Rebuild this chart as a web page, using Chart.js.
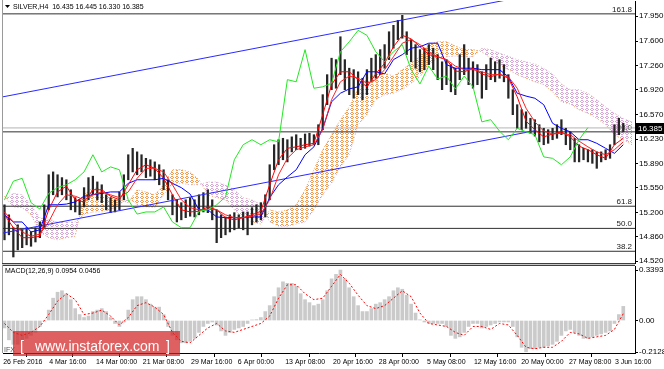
<!DOCTYPE html>
<html>
<head>
<meta charset="utf-8">
<script src="https://cdn.jsdelivr.net/npm/chart.js@4/dist/chart.umd.min.js"></script>
<style>
  body { margin: 0; background: #fff; width: 664px; height: 369px; overflow: hidden; position: relative; }
  canvas { position: absolute; left: 0; }
  #main { top: 0; }
  #macd { top: 265px; }
</style>
</head>
<body>
<canvas id="main" width="664" height="265"></canvas>
<canvas id="macd" width="664" height="104"></canvas>
<script>
// Header / instrument
const symbolName = 'SILVER,H4';
const lastOHLC = [16.435, 16.445, 16.330, 16.385];

// Price axis ticks (MT4 style)
const priceTicks = [14.52, 14.86, 15.20, 15.55, 15.89, 16.23, 16.57, 16.92, 17.26, 17.60, 17.95];

// Fibonacci levels
const fibNames = ['38.2', '50.0', '61.8', '100.0', '161.8'];
const fibPrices = [14.66, 14.98, 15.29, 16.33, 17.98];

// Time axis (slot = 3 H4 bars)
const dateSlots = [-0.3, 10.1, 20.7, 31.3, 42.2, 52.8, 63.5, 74.3, 84.7, 95.6, 106.2, 116.9, 127.7, 138.1];
const dateLabels = ['26 Feb 2016', '4 Mar 16:00', '14 Mar 00:00', '21 Mar 08:00', '29 Mar 16:00', '6 Apr 00:00',
  '13 Apr 08:00', '20 Apr 16:00', '28 Apr 00:00', '5 May 08:00', '12 May 16:00', '20 May 00:00',
  '27 May 08:00', '3 Jun 16:00'];

// Candles (high / low per slot)
const candleHigh = [
  15.31, 15.17, 14.99, 15.03, 14.96, 14.99, 14.93, 14.99, 15.07, 15.31,
  15.73, 15.77, 15.73, 15.69, 15.66, 15.52, 15.41, 15.38, 15.55, 15.69,
  15.71, 15.63, 15.59, 15.45, 15.41, 15.38, 15.49, 15.73, 16.01, 16.10,
  16.05, 16.01, 15.96, 15.94, 15.91, 15.87, 15.80, 15.66, 15.45, 15.38,
  15.34, 15.38, 15.41, 15.38, 15.45, 15.48, 15.52, 15.38, 15.24, 15.17,
  15.14, 15.17, 15.20, 15.17, 15.21, 15.21, 15.27, 15.31, 15.34, 15.45,
  15.87, 16.15, 16.22, 16.24, 16.22, 16.26, 16.29, 16.24, 16.30, 16.31,
  16.29, 16.43, 16.85, 17.13, 17.36, 17.34, 17.66, 17.34, 17.22, 17.20,
  17.17, 17.08, 17.20, 17.36, 17.41, 17.48, 17.55, 17.73, 17.82, 17.89,
  17.96, 17.73, 17.62, 17.55, 17.48, 17.50, 17.55, 17.50, 17.41, 17.31,
  17.34, 17.27, 17.22, 17.41, 17.55, 17.36, 17.31, 17.27, 17.17, 17.27,
  17.36, 17.31, 17.34, 17.27, 17.13, 16.92, 16.71, 16.64, 16.61, 16.52,
  16.50, 16.43, 16.38, 16.36, 16.38, 16.43, 16.50, 16.38, 16.33, 16.24,
  16.15, 16.10, 16.08, 16.08, 16.05, 16.05, 16.08, 16.15, 16.43, 16.52,
  16.45
];
const candleLow = [
  14.82, 14.89, 14.58, 14.68, 14.71, 14.75, 14.73, 14.79, 14.85, 14.99,
  15.24, 15.45, 15.42, 15.45, 15.38, 15.24, 15.21, 15.17, 15.28, 15.38,
  15.45, 15.38, 15.34, 15.24, 15.20, 15.21, 15.24, 15.38, 15.66, 15.77,
  15.73, 15.77, 15.69, 15.71, 15.66, 15.59, 15.52, 15.38, 15.17, 15.07,
  15.10, 15.13, 15.15, 15.14, 15.17, 15.21, 15.20, 15.10, 14.78, 14.85,
  14.89, 14.93, 14.96, 14.99, 14.96, 14.89, 15.03, 15.07, 15.10, 15.14,
  15.38, 15.80, 15.87, 15.94, 15.91, 16.05, 16.08, 16.08, 16.10, 16.13,
  16.15, 16.15, 16.36, 16.71, 16.92, 16.94, 17.13, 16.92, 16.85, 16.80,
  16.85, 16.78, 16.85, 17.03, 17.08, 17.13, 17.22, 17.34, 17.50, 17.62,
  17.64, 17.41, 17.31, 17.22, 17.17, 17.20, 17.27, 17.20, 17.06, 16.92,
  16.99, 16.89, 16.85, 17.06, 17.13, 16.99, 16.94, 16.99, 16.80, 16.92,
  17.06, 17.03, 17.08, 17.03, 16.80, 16.57, 16.38, 16.36, 16.38, 16.31,
  16.27, 16.19, 16.15, 16.17, 16.22, 16.24, 16.29, 16.15, 16.08, 15.91,
  15.91, 15.94, 15.91, 15.89, 15.82, 15.91, 15.94, 15.96, 16.15, 16.29,
  16.33
];

// Indicator lines, one value every 2 slots
const tenkan = [15.17, 14.99, 14.85, 14.85, 14.87, 15.24, 15.49, 15.57, 15.38, 15.35,
  15.52, 15.52, 15.43, 15.38, 15.59, 15.80, 15.87, 15.82, 15.68, 15.45,
  15.24, 15.21, 15.22, 15.28, 15.24, 15.13, 15.10, 15.13, 15.17, 15.22,
  15.59, 15.94, 16.10, 16.12, 16.15, 16.17, 16.57, 16.99, 17.17, 17.17,
  17.06, 16.96, 17.14, 17.29, 17.52, 17.68, 17.63, 17.52, 17.41, 17.38,
  17.34, 17.18, 17.17, 17.22, 17.14, 17.10, 17.14, 17.08, 16.82, 16.48,
  16.36, 16.26, 16.30, 16.33, 16.26, 16.13, 16.08, 16.01, 15.96, 16.15,
  16.24, null];
const maLine = [15.21, 15.07, 14.93, 14.87, 14.90, 15.07, 15.31, 15.45, 15.43, 15.38,
  15.45, 15.49, 15.45, 15.41, 15.49, 15.68, 15.82, 15.82, 15.77, 15.59,
  15.38, 15.27, 15.24, 15.25, 15.24, 15.17, 15.13, 15.13, 15.15, 15.18,
  15.38, 15.73, 15.96, 16.08, 16.12, 16.15, 16.36, 16.78, 17.03, 17.11,
  17.08, 17.01, 17.06, 17.20, 17.38, 17.57, 17.62, 17.55, 17.45, 17.38,
  17.34, 17.25, 17.20, 17.20, 17.17, 17.13, 17.13, 17.10, 16.94, 16.66,
  16.47, 16.34, 16.30, 16.31, 16.29, 16.20, 16.12, 16.05, 16.01, 16.08,
  16.19, null];
const kijun = [15.17, 15.07, 15.07, 14.93, 14.96, 15.31, 15.31, 15.32, 15.35, 15.43,
  15.45, 15.47, 15.49, 15.49, 15.61, 15.66, 15.66, 15.66, 15.68, 15.61,
  15.55, 15.46, 15.24, 15.24, 15.14, 15.13, 15.13, 15.13, 15.14, 15.14,
  15.41, 15.59, 15.70, 15.80, 16.01, 16.12, 16.38, 16.75, 16.87, 16.93,
  16.96, 17.17, 17.17, 17.14, 17.34, 17.41, 17.50, 17.52, 17.57, 17.57,
  17.27, 17.22, 17.22, 17.22, 17.20, 17.20, 17.20, 17.10, 16.87, 16.83,
  16.80, 16.71, 16.45, 16.38, 16.33, 16.22, 16.22, 16.17, 16.10, 16.03,
  16.15, null];
const chikou = [15.38, 15.64, 15.68, 15.34, 15.25, 15.47, 15.55, 15.59, 15.66, 15.77,
  16.01, 15.77, 15.84, 15.80, 15.38, 15.18, 15.21, 15.21, 15.28, 15.07,
  14.99, 14.99, 15.22, 15.24, 15.31, 15.42, 15.94, 16.15, 16.22, 16.15,
  16.22, 16.19, 17.06, 17.03, 17.48, 16.94, 16.96, 17.01, 17.45, 17.59,
  17.75, 17.68, 17.45, 17.31, 17.45, 17.55, 17.20, 17.00, 17.25, 17.07,
  17.11, 16.93, 17.11, 16.96, 16.47, 16.50, 16.34, 16.22, 16.38, 16.33,
  16.29, 15.98, 15.96, 15.87, 15.98, 16.22, 16.39, null, null, null,
  null, null];
const spanA = [15.43, 15.28, 15.27, 15.17, 14.93, 14.85, 14.82, 14.85, 14.87, 15.45,
  15.55, 15.52, 15.43, 15.38, 15.34, 15.52, 15.49, 15.45, 15.59, 15.80,
  15.80, 15.77, 15.66, 15.45, 15.41, 15.38, 15.24, 15.13, 15.07, 15.04,
  15.24, 15.21, 15.24, 15.31, 15.52, 15.80, 16.08, 16.29, 16.50, 16.68,
  16.94, 17.07, 17.14, 17.15, 17.11, 17.20, 17.29, 17.38, 17.55, 17.59,
  17.59, 17.53, 17.48, 17.48, 17.45, 17.36, 17.27, 17.20, 17.13, 17.08,
  17.03, 16.99, 16.89, 16.75, 16.72, 16.64, 16.59, 16.52, 16.43, 16.29,
  16.22, 16.15];
const spanB = [15.38, 15.47, 15.45, 15.31, 15.13, 15.10, 15.07, 15.07, 15.07, 15.17,
  15.21, 15.21, 15.24, 15.31, 15.41, 15.31, 15.28, 15.27, 15.45, 15.59,
  15.61, 15.59, 15.59, 15.63, 15.63, 15.59, 15.52, 15.41, 15.38, 15.31,
  15.07, 15.01, 15.01, 15.04, 15.07, 15.24, 15.45, 15.61, 15.84, 16.01,
  16.43, 16.57, 16.78, 16.85, 16.87, 16.92, 17.01, 17.10, 17.27, 17.36,
  17.38, 17.39, 17.38, 17.38, 17.50, 17.48, 17.43, 17.39, 17.34, 17.31,
  17.28, 17.22, 17.14, 17.00, 16.92, 16.92, 16.87, 16.78, 16.68, 16.59,
  16.52, 16.47];

// Trend channel end points
const upperChannelSlots = [-0.34, 142.65];
const upperChannel = [16.82, 18.52];
const lowerChannelSlots = [-0.34, 120];
const lowerChannel = [14.915, 16.346];

// MACD
const macdHist = [
  -0.05, -0.13, -0.16, -0.16, -0.14, -0.12, -0.10, -0.08, -0.04, -0.003,
  0.07, 0.15, 0.19, 0.20, 0.18, 0.14, 0.08, 0.04, 0.02, 0.03,
  0.06, 0.07, 0.08, 0.06, 0.02, -0.02, -0.04, -0.01, 0.07, 0.14,
  0.16, 0.16, 0.14, 0.11, 0.09, 0.09, 0.04, -0.04, -0.10, -0.13,
  -0.15, -0.15, -0.14, -0.12, -0.08, -0.04, -0.02, -0.01, -0.03, -0.07,
  -0.10, -0.08, -0.06, -0.05, -0.04, -0.02, 0.004, 0.006, 0.02, 0.06,
  0.10, 0.16, 0.22, 0.26, 0.25, 0.25, 0.23, 0.18, 0.14, 0.12,
  0.10, 0.11, 0.14, 0.20, 0.28, 0.31, 0.339, 0.28, 0.22, 0.16,
  0.10, 0.06, 0.06, 0.08, 0.11, 0.12, 0.14, 0.16, 0.20, 0.22,
  0.21, 0.17, 0.11, 0.05, 0.005, -0.01, -0.02, -0.02, -0.02, -0.02,
  -0.04, -0.10, -0.12, -0.11, -0.08, -0.04, -0.02, -0.02, -0.05, -0.04,
  -0.03, -0.02, -0.01, -0.01, -0.01, -0.04, -0.11, -0.18, -0.21, -0.19,
  -0.19, -0.18, -0.18, -0.17, -0.16, -0.14, -0.10, -0.07, -0.06, -0.08,
  -0.10, -0.12, -0.12, -0.11, -0.10, -0.09, -0.08, -0.07, -0.02, 0.04,
  0.095
];
const macdSignal = [-0.02, -0.08, -0.10, -0.08, -0.04, 0.04, 0.13, 0.18, 0.14, 0.04,
  0.05, 0.07, 0.03, -0.03, 0.02, 0.10, 0.12, 0.09, 0.04, -0.08,
  -0.14, -0.15, -0.10, -0.05, -0.02, -0.07, -0.08, -0.06, -0.04, -0.02,
  0.03, 0.15, 0.24, 0.24, 0.18, 0.14, 0.15, 0.23, 0.31, 0.25,
  0.17, 0.10, 0.08, 0.10, 0.15, 0.20, 0.16, 0.05, -0.02, -0.03,
  -0.04, -0.08, -0.10, -0.04, -0.04, -0.06, -0.02, -0.03, -0.10, -0.18,
  -0.19, -0.18, -0.18, -0.14, -0.08, -0.09, -0.12, -0.11, -0.10, -0.06,
  0.046, null];
const macdTicks = [-0.2128, 0, 0.3393];
const macdTickLabels = ['-0.2128', '0.00', '0.3393'];
const macdLabel = 'MACD(12,26,9) 0.0954 0.0456';

// view window
const xMin = -0.34, xMax = 142.65;
const priceMin = 14.496, priceMax = 18.160;
const macdMin = -0.2184, macdMax = 0.3663;

const FONT = 'Liberation Sans';
Chart.defaults.font.family = FONT;
Chart.defaults.color = '#000';

const candleSlots = candleHigh.map((_, i) => i);
const lineSlots = spanA.map((_, k) => k * 2);
const pts = (vals, slots) => vals.map((v, k) => ({ x: slots[k], y: v }));

// sparse "o" hatch like the MT4 cloud
function hatch(color) {
  const c = document.createElement('canvas');
  c.width = 5; c.height = 4;
  const g = c.getContext('2d');
  g.fillStyle = color;
  g.fillRect(1, 0, 2, 1);
  g.fillRect(0, 1, 1, 1);
  g.fillRect(3, 1, 1, 1);
  g.fillRect(1, 2, 2, 1);
  return g.createPattern(c, 'repeat');
}

function lineSet(data, color, order, extra) {
  return Object.assign({ type: 'line', data: data, borderColor: color, borderWidth: 1,
    pointRadius: 0, tension: 0, fill: false, order: order }, extra || {});
}

const fibSets = fibPrices.map(p => lineSet([{ x: xMin, y: p }, { x: xMax, y: p }], '#303030', 9));

const mainPlugin = {
  id: 'mainDecor',
  beforeDatasetsDraw(chart) {
    const ctx = chart.ctx, y = chart.scales.y, a = chart.chartArea;
    ctx.save();
    ctx.font = '8px "' + FONT + '"';
    ctx.fillStyle = '#202020';
    ctx.textAlign = 'right';
    ctx.textBaseline = 'alphabetic';
    fibPrices.forEach((p, i) => ctx.fillText(fibNames[i], a.right - 3, y.getPixelForValue(p) - 2));
    ctx.restore();
  },
  afterDraw(chart) {
    const ctx = chart.ctx, y = chart.scales.y, a = chart.chartArea;
    ctx.save();
    // frame
    ctx.fillStyle = '#9a9a9a';
    ctx.fillRect(2, 0, 1, a.bottom);
    ctx.fillStyle = '#404040';
    ctx.fillRect(2, a.bottom, a.right - 2, 1);
    ctx.fillStyle = '#c8c8c8';
    ctx.fillRect(2, a.bottom + 1, a.right - 2, 1);
    // header
    ctx.fillStyle = '#000';
    ctx.beginPath();
    ctx.moveTo(5, 5); ctx.lineTo(10, 5); ctx.lineTo(7.5, 8); ctx.closePath(); ctx.fill();
    ctx.font = '7px "' + FONT + '"';
    ctx.textBaseline = 'middle';
    ctx.fillText(symbolName + '  ' + lastOHLC.map(v => v.toFixed(3)).join(' '), 13, 7);
    // last price tag
    const py = Math.round(y.getPixelForValue(lastOHLC[3]));
    ctx.fillStyle = '#000';
    ctx.fillRect(a.right + 1, py - 5, 664 - a.right - 1, 11);
    ctx.fillStyle = '#fff';
    ctx.font = '8px "' + FONT + '"';
    ctx.fillText(lastOHLC[3].toFixed(3), a.right + 3, py + 0.5);
    ctx.restore();
  }
};

new Chart(document.getElementById('main'), {
  type: 'bar',
  data: {
    datasets: [
      lineSet(pts(spanA, lineSlots), '#f4a460', 12, { borderDash: [1, 2],
        fill: { target: '+1', above: hatch('#f29a50'), below: hatch('#d6a6d6') } }),
      lineSet(pts(spanB, lineSlots), '#d8bfd8', 12, { borderDash: [1, 2] }),
      ...fibSets,
      lineSet([{ x: xMin, y: lastOHLC[3] }, { x: xMax, y: lastOHLC[3] }], '#b4b4b4', 9),
      { type: 'bar', label: 'SILVER', data: candleSlots.map(i => ({ x: i, y: [candleLow[i], candleHigh[i]] })),
        backgroundColor: '#262626', barThickness: 1.6, order: 5 },
      lineSet(pts(upperChannel, upperChannelSlots), '#2a2aff', 4),
      lineSet(pts(lowerChannel, lowerChannelSlots), '#2a2aff', 4),
      lineSet(pts(kijun, lineSlots), '#0000ff', 3),
      lineSet(pts(maLine, lineSlots), '#ff2020', 2),
      lineSet(pts(tenkan, lineSlots), '#ff0000', 2),
      lineSet(pts(chikou, lineSlots), '#22e822', 1)
    ]
  },
  options: {
    responsive: false, animation: false, events: [], devicePixelRatio: 1,
    layout: { padding: { left: 3, top: 1, right: 0, bottom: 2 } },
    plugins: { legend: { display: false }, tooltip: { enabled: false } },
    scales: {
      x: { type: 'linear', min: xMin, max: xMax, display: false, offset: false },
      y: {
        position: 'right', min: priceMin, max: priceMax,
        afterBuildTicks: s => { s.ticks = priceTicks.map(v => ({ value: v })); },
        afterFit: s => { s.width = 29; s.paddingTop = 0; s.paddingBottom = 0; },
        ticks: { callback: v => v.toFixed(3), font: { size: 8 }, padding: 1, autoSkip: false },
        grid: { drawOnChartArea: false, tickLength: 3, color: '#000' },
        border: { color: '#000' }
      }
    }
  },
  plugins: [mainPlugin]
});

const macdPlugin = {
  id: 'macdDecor',
  afterDraw(chart) {
    const ctx = chart.ctx, a = chart.chartArea;
    ctx.save();
    ctx.fillStyle = '#404040';
    ctx.fillRect(2, 0, a.right - 2, 1);
    ctx.fillStyle = '#9a9a9a';
    ctx.fillRect(2, 0, 1, a.bottom);
    ctx.fillStyle = '#000';
    ctx.font = '7px "' + FONT + '"';
    ctx.textBaseline = 'middle';
    ctx.fillText(macdLabel, 5, 6);
    ctx.fillStyle = '#555';
    ctx.fillText('IFX', 4, 85);
    // watermark
    ctx.fillStyle = 'rgba(210, 35, 35, 0.72)';
    ctx.fillRect(13, 66, 167, 25);
    ctx.fillStyle = '#fff';
    ctx.font = '14px "' + FONT + '"';
    ctx.textBaseline = 'alphabetic';
    ctx.fillText('[', 20, 86);
    ctx.fillText('www.instaforex.com', 35, 86);
    ctx.fillText(']', 166, 86);
    ctx.restore();
  }
};

new Chart(document.getElementById('macd'), {
  type: 'bar',
  data: {
    datasets: [
      lineSet(pts(macdSignal, lineSlots), '#ff0000', 1, { borderDash: [2, 2] }),
      { type: 'bar', label: 'MACD', data: candleSlots.map(i => ({ x: i, y: macdHist[i] })),
        backgroundColor: '#cacaca', barThickness: 3, order: 2 }
    ]
  },
  options: {
    responsive: false, animation: false, events: [], devicePixelRatio: 1,
    layout: { padding: { left: 3, top: 1, right: 0, bottom: 0 } },
    plugins: { legend: { display: false }, tooltip: { enabled: false } },
    scales: {
      x: {
        type: 'linear', min: xMin, max: xMax, position: 'bottom', offset: false,
        afterBuildTicks: s => { s.ticks = dateSlots.map(v => ({ value: v })); },
        afterFit: s => { s.height = 16; s.paddingLeft = 0; s.paddingRight = 0; },
        ticks: { callback: (v, i) => dateLabels[i], align: 'start', maxRotation: 0, minRotation: 0,
          autoSkip: false, font: { size: 7 }, padding: 1 },
        grid: { drawOnChartArea: false, tickLength: 4, color: '#000' },
        border: { color: '#000' }
      },
      y: {
        position: 'right', min: macdMin, max: macdMax,
        afterBuildTicks: s => { s.ticks = macdTicks.map(v => ({ value: v })); },
        afterFit: s => { s.width = 29; s.paddingTop = 0; s.paddingBottom = 0; },
        ticks: { callback: (v, i) => macdTickLabels[i], font: { size: 8 }, padding: 1, autoSkip: false },
        grid: { drawOnChartArea: false, tickLength: 3, color: '#000' },
        border: { color: '#000' }
      }
    }
  },
  plugins: [macdPlugin]
});
</script>
</body>
</html>
